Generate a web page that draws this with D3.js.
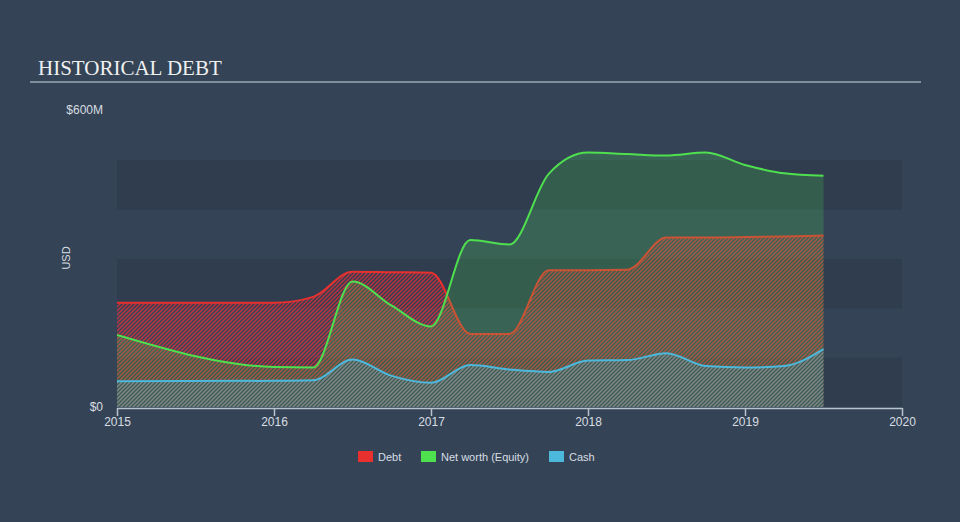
<!DOCTYPE html>
<html><head><meta charset="utf-8">
<script src="https://cdn.jsdelivr.net/npm/d3@7"></script>
<style>
html,body{margin:0;padding:0;background:#344456;}
svg{display:block;}
</style></head>
<body>
<script>
const dates = [2015.0, 2016.0, 2016.25, 2016.5, 2016.75, 2017.0, 2017.25, 2017.5, 2017.75, 2018.0, 2018.25, 2018.5, 2018.75, 2019.0, 2019.25, 2019.5];
const debt   = [211, 211, 223, 274, 273, 272, 148, 148, 277, 277, 278, 343, 343, 344, 345, 347];
const equity = [146, 81, 80, 254, 205, 163, 338, 329, 472, 515, 512, 509, 515, 490, 473, 468];
const cash   = [52, 53, 54, 96, 63, 49, 85, 76, 71, 94, 95, 109, 83, 80, 83, 117];
const xTicks = [2015, 2016, 2017, 2018, 2019, 2020];
const yTicks = [0, 600];
const yTickLabels = ["$0", "$600M"];
const bands = [0, 100, 200, 300, 400];
const seriesNames = ["Debt", "Net worth (Equity)", "Cash"];
const seriesColors = ["#e8312f", "#4fe04f", "#4cb8dc"];

const W = 960, H = 522;
const svg = d3.select("body").append("svg").attr("width", W).attr("height", H);
svg.append("rect").attr("width", W).attr("height", H).attr("fill", "#344456");

const x = d3.scaleLinear().domain([2015, 2020]).range([117, 902]);
const y = d3.scaleLinear().domain([0, 600]).range([407, 110.6]);

const defs = svg.append("defs");
function hatch(id, color, op) {
  const p = defs.append("pattern").attr("id", id).attr("patternUnits", "userSpaceOnUse")
    .attr("width", 4).attr("height", 4);
  p.append("path").attr("d", "M-1,1 l2,-2 M0,4 l4,-4 M3,5 l2,-2")
    .attr("stroke", color).attr("stroke-width", 1.5).attr("stroke-opacity", op).attr("fill", "none");
}
hatch("hDebt", "#ee2f3c", 0.72);
hatch("hCash", "#4fb6d6", 0.5);
defs.append("clipPath").attr("id", "plotClip").append("rect")
  .attr("x", 117).attr("y", 100).attr("width", 785).attr("height", 307);

// title
svg.append("text").attr("x", 38).attr("y", 75).text("HISTORICAL DEBT")
  .attr("font-family", "'Liberation Serif', 'Times New Roman', serif").attr("font-size", 21)
  .attr("fill", "#f0f0f0");
svg.append("line").attr("x1", 30).attr("x2", 921).attr("y1", 82).attr("y2", 82)
  .attr("stroke", "#9aa6b2").attr("stroke-width", 1.5);

// bands
svg.selectAll("rect.band").data(bands).enter().append("rect").attr("class", "band")
  .attr("x", x(2015)).attr("width", x(2020) - x(2015))
  .attr("y", d => y(d + 100)).attr("height", d => y(d) - y(d + 100))
  .attr("fill", (d, i) => i % 2 === 0 ? "#2f3d4e" : "#344456");

const pts = arr => dates.map((d, i) => [d, arr[i]]);
const curve = d3.curveMonotoneX;
const area = d3.area().x(d => x(d[0])).y0(y(0)).y1(d => y(d[1])).curve(curve);
const line = d3.line().x(d => x(d[0])).y(d => y(d[1])).curve(curve);

const g = svg.append("g").attr("clip-path", "url(#plotClip)");
// debt
g.append("path").attr("d", area(pts(debt))).attr("fill", "url(#hDebt)");
g.append("path").attr("d", line(pts(debt))).attr("fill", "none").attr("stroke", seriesColors[0]).attr("stroke-width", 2);
// equity
g.append("path").attr("d", area(pts(equity))).attr("fill", "#4fe04f").attr("fill-opacity", 0.2);
g.append("path").attr("d", line(pts(equity))).attr("fill", "none").attr("stroke", seriesColors[1]).attr("stroke-width", 2);
// cash
g.append("path").attr("d", area(pts(cash))).attr("fill", "url(#hCash)");
g.append("path").attr("d", line(pts(cash))).attr("fill", "none").attr("stroke", seriesColors[2]).attr("stroke-width", 2);

// x axis
const xAxis = d3.axisBottom(x).tickValues(xTicks).tickFormat(d3.format("d")).tickSize(8).tickSizeOuter(0);
const xg = svg.append("g").attr("transform", "translate(0,408)").call(xAxis);
xg.select(".domain").attr("stroke", "#b8c2cc").attr("stroke-width", 1.5);
xg.selectAll(".tick line").attr("stroke", "#b8c2cc").attr("stroke-width", 1.5);
xg.selectAll(".tick text").attr("fill", "#d8dde2").attr("font-size", 12)
  .attr("font-family", "'Liberation Sans', Arial, sans-serif").attr("dy", "0.35em").attr("y", 14);

// y labels
svg.selectAll("text.ylab").data(yTicks).enter().append("text").attr("class", "ylab")
  .attr("x", 103).attr("y", d => y(d)).attr("dy", "0.32em").attr("text-anchor", "end")
  .attr("font-family", "'Liberation Sans', Arial, sans-serif").attr("font-size", 12)
  .attr("fill", "#d8dde2").text((d, i) => yTickLabels[i]);
svg.append("text").attr("transform", "translate(70,258) rotate(-90)").attr("text-anchor", "middle")
  .attr("font-family", "'Liberation Sans', Arial, sans-serif").attr("font-size", 11)
  .attr("fill", "#d8dde2").text("USD");

// legend
const legX = [358, 421, 549];
const lg = svg.selectAll("g.leg").data(seriesNames).enter().append("g").attr("class", "leg")
  .attr("transform", (d, i) => `translate(${legX[i]},451)`);
lg.append("rect").attr("width", 15).attr("height", 11).attr("fill", (d, i) => seriesColors[i]);
lg.append("text").attr("x", 20).attr("y", 9.5).text(d => d)
  .attr("font-family", "'Liberation Sans', Arial, sans-serif").attr("font-size", 11).attr("fill", "#d8dde2");
</script>
</body></html>
